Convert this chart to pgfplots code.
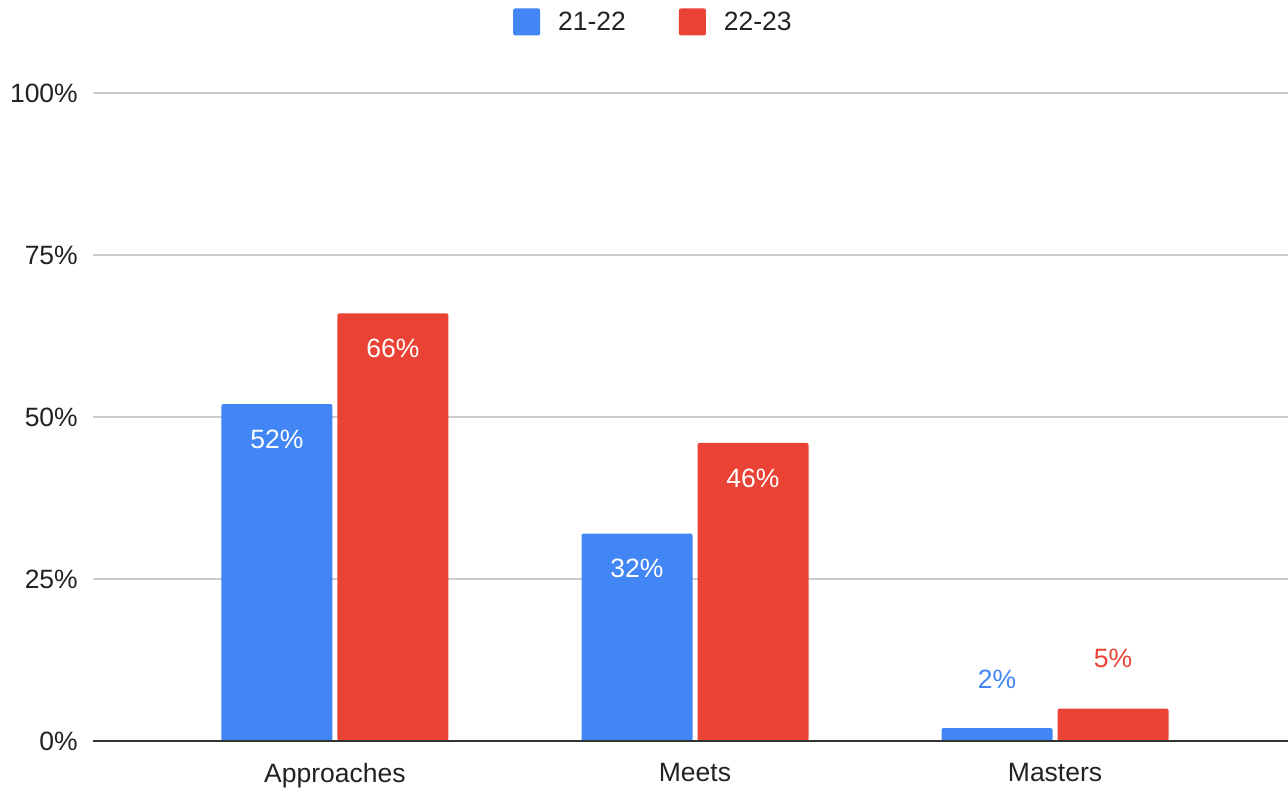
\documentclass[border=0pt]{standalone}
\usepackage{pgfplots}
\pgfplotsset{compat=1.18}
\usepackage{fontspec}
\setmainfont{Liberation Sans}
\definecolor{gblue}{HTML}{4285F4}
\definecolor{gred}{HTML}{EA4335}
\definecolor{txt}{HTML}{222222}
\definecolor{gridc}{HTML}{CCCCCC}
\definecolor{zeroc}{HTML}{333333}
\newcommand{\cf}{\fontsize{26.5}{32}\selectfont}
\begin{document}
\begin{tikzpicture}
\begin{axis}[
  at={(93pt,53pt)}, anchor=south west,
  scale only axis, width=1195pt, height=648pt,
  xmin=-0.672, xmax=2.647, ymin=0, ymax=100,
  axis line style={draw=none},
  clip=false,
  ymajorgrids, grid style={color=gridc, line width=2pt},
  major tick length=0pt,
  ytick={0,25,50,75,100},
  yticklabels={0\%,25\%,50\%,75\%,100\%},
  xtick={0,1,2},
  xticklabels={Approaches,Meets,Masters},
  yticklabel style={font=\cf, text=txt, anchor=east, inner sep=0pt, xshift=-15pt},
  xticklabel style={font=\cf, text=txt, anchor=north, inner sep=0pt, yshift=-22pt},
  legend columns=2,
  legend style={at={(0.469,1.1096)}, anchor=center, draw=none, fill=none,
    font=\cf, text=txt,
    /tikz/every odd column/.append style={column sep=16pt},
    /tikz/every even column/.append style={column sep=51pt}},
]
\addplot[ybar, bar width=111pt, bar shift=-58pt, fill=gblue, draw=none, rounded corners=2pt,
  legend image code/.code={\fill[gblue, rounded corners=2pt] (0pt,-13.5pt) rectangle (27pt,13.5pt);}]
  coordinates {(0,52) (1,32) (2,2)};
\addlegendentry{21-22}
\addplot[ybar, bar width=111pt, bar shift=58pt, fill=gred, draw=none, rounded corners=2pt,
  legend image code/.code={\fill[gred, rounded corners=2pt] (0pt,-13.5pt) rectangle (27pt,13.5pt);}]
  coordinates {(0,66) (1,46) (2,5)};
\addlegendentry{22-23}
% labels inside bars
\addplot[only marks, mark=none, forget plot,
  point meta=explicit symbolic, nodes near coords,
  nodes near coords style={font=\cf, text=white, anchor=center, xshift=-58pt, yshift=-35pt}]
  coordinates {(0,52) [52\%] (1,32) [32\%]};
\addplot[only marks, mark=none, forget plot,
  point meta=explicit symbolic, nodes near coords,
  nodes near coords style={font=\cf, text=white, anchor=center, xshift=58pt, yshift=-35pt}]
  coordinates {(0,66) [66\%] (1,46) [46\%]};
% labels above small bars
\addplot[only marks, mark=none, forget plot,
  point meta=explicit symbolic, nodes near coords,
  nodes near coords style={font=\cf, text=gblue, anchor=center, xshift=-58pt, yshift=49pt}]
  coordinates {(2,2) [2\%]};
\addplot[only marks, mark=none, forget plot,
  point meta=explicit symbolic, nodes near coords,
  nodes near coords style={font=\cf, text=gred, anchor=center, xshift=58pt, yshift=50pt}]
  coordinates {(2,5) [5\%]};
\draw[color=zeroc, line width=2.5pt] (axis cs:-0.672,0) -- (axis cs:2.647,0);
\end{axis}
\pgfresetboundingbox
\useasboundingbox (0,0) rectangle (1288pt,794pt);
\end{tikzpicture}
\end{document}
